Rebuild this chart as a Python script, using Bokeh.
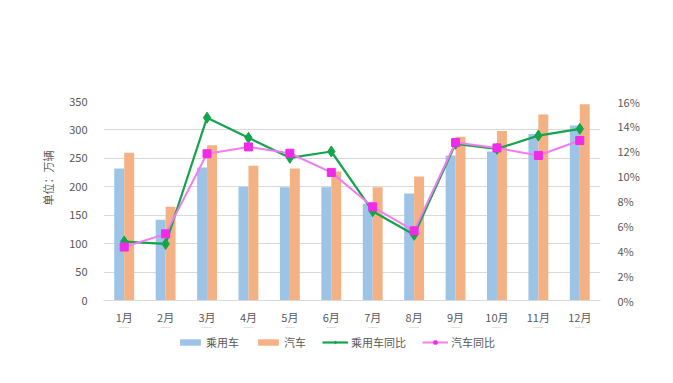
from bokeh.plotting import figure
from bokeh.layouts import column
from bokeh.models import (ColumnDataSource, LinearAxis, Range1d, NumeralTickFormatter,
                          SingleIntervalTicker, Legend, LegendItem, Title, FixedTicker)
from bokeh.transform import dodge
from bokeh.embed import file_html
from bokeh.resources import INLINE

months = ["1月", "2月", "3月", "4月", "5月", "6月", "7月", "8月", "9月", "10月", "11月", "12月"]
passenger = [232, 142, 234, 200, 199, 199, 170, 188, 255, 262, 293, 308]
vehicles = [260, 165, 273, 237, 232, 227, 199, 218, 288, 298, 327, 345]
passenger_yoy = [0.0474, 0.0455, 0.147, 0.1308, 0.1147, 0.1198, 0.0718, 0.0528, 0.126, 0.1219, 0.1326, 0.138]
vehicles_yoy = [0.043, 0.0536, 0.118, 0.1235, 0.1184, 0.103, 0.0753, 0.056, 0.127, 0.1227, 0.1166, 0.1286]
series_names = ["乘用车", "汽车", "乘用车同比", "汽车同比"]

FONT = "Noto Sans CJK SC"
x = list(range(1, len(months) + 1))
src = ColumnDataSource(dict(x=x, p=passenger, v=vehicles, py=passenger_yoy, vy=vehicles_yoy))

blue, orange = "#9dc3e6", "#f4b183"
green = "#14a44d"
pink_line = "#f27cf0"
pink_mark = "#ee2ce8"

p = figure(frame_width=497, frame_height=199, output_backend="svg", toolbar_location=None,
           x_range=Range1d(0.5, 12.5), y_range=Range1d(0, 350),
           min_border_left=103, min_border_right=60, min_border_top=101, min_border_bottom=22)
p.extra_y_ranges = {"pct": Range1d(0, 0.16)}
p.outline_line_color = None
p.background_fill_color = "white"
p.border_fill_color = "white"

bw = 0.24
p.vbar(x=dodge("x", -bw / 2), top="p", width=bw, source=src, fill_color=blue, line_color=None)
p.vbar(x=dodge("x", bw / 2), top="v", width=bw, source=src, fill_color=orange, line_color=None)
p.line(x="x", y="py", source=src, y_range_name="pct", line_color=green, line_width=2.2)
p.scatter(x="x", y="py", source=src, y_range_name="pct", marker="diamond", size=11,
          fill_color=green, line_color=green)
p.line(x="x", y="vy", source=src, y_range_name="pct", line_color=pink_line, line_width=2)
p.scatter(x="x", y="vy", source=src, y_range_name="pct", marker="square", size=8,
          fill_color=pink_mark, line_color=pink_mark)

# axes
p.yaxis.ticker = SingleIntervalTicker(interval=50)
p.yaxis.axis_line_color = None
p.yaxis.major_tick_line_color = None
p.yaxis.minor_tick_line_color = None
p.yaxis.major_label_text_font = FONT
p.yaxis.major_label_text_font_size = "11px"
p.yaxis.major_label_text_color = "#595959"
p.yaxis.major_label_standoff = 10

ra = LinearAxis(y_range_name="pct", ticker=FixedTicker(ticks=[i / 100 for i in range(0, 17, 2)]),
                formatter=NumeralTickFormatter(format="0%"))
ra.axis_line_color = None
ra.major_tick_line_color = None
ra.minor_tick_line_color = None
ra.major_label_text_font = FONT
ra.major_label_text_font_size = "11px"
ra.major_label_text_color = "#595959"
ra.major_label_standoff = 11
p.add_layout(ra, "right")

p.xaxis.ticker = FixedTicker(ticks=x)
p.xaxis.major_label_overrides = {i + 1: m for i, m in enumerate(months)}
p.xaxis.axis_line_color = "#d9d9d9"
p.xaxis.major_tick_line_color = None
p.xaxis.minor_tick_line_color = None
p.xaxis.major_label_text_font = FONT
p.xaxis.major_label_text_font_size = "11px"
p.xaxis.major_label_text_color = "#595959"
p.xaxis.major_label_standoff = 2

p.xgrid.grid_line_color = None
p.ygrid.grid_line_color = "#d9d9d9"

ytitle = Title(text="单位：万辆", align="left", offset=95, standoff=21,
               text_font=FONT, text_font_size="11px", text_font_style="normal",
               text_color="#595959")
p.add_layout(ytitle, "left")

# legend strip below the chart (same data, drawn outside its visible range; only the legend shows)
lg = figure(width=660, height=40, output_backend="svg", toolbar_location=None,
            x_axis_type=None, y_axis_type=None, min_border=0,
            x_range=Range1d(0.5, 12.5), y_range=Range1d(-1000, -999))
lg.extra_y_ranges = {"pct": Range1d(-1000, -999)}
lg.outline_line_color = None
lg.xgrid.grid_line_color = None
lg.ygrid.grid_line_color = None
r1 = lg.vbar(x="x", top="p", bottom=500, width=bw, source=src, fill_color=blue, line_color=None)
r2 = lg.vbar(x="x", top="v", bottom=500, width=bw, source=src, fill_color=orange, line_color=None)
r3 = lg.line(x="x", y="py", source=src, y_range_name="pct", line_color=green, line_width=2.2)
r3m = lg.scatter(x="x", y="py", source=src, y_range_name="pct", marker="diamond", size=9,
                 fill_color=green, line_color=green)
r4 = lg.line(x="x", y="vy", source=src, y_range_name="pct", line_color=pink_line, line_width=2)
r4m = lg.scatter(x="x", y="vy", source=src, y_range_name="pct", marker="square", size=8,
                 fill_color=pink_mark, line_color=pink_mark)

legend = Legend(items=[
    LegendItem(label=series_names[0], renderers=[r1]),
    LegendItem(label=series_names[1], renderers=[r2]),
    LegendItem(label=series_names[2], renderers=[r3, r3m]),
    LegendItem(label=series_names[3], renderers=[r4, r4m]),
], orientation="horizontal", location=(74, 17), nrows=1)
legend.border_line_color = None
legend.background_fill_alpha = 0
legend.label_text_font = FONT
legend.label_text_font_size = "11px"
legend.label_text_color = "#595959"
legend.label_height = 14
legend.glyph_width = 26
legend.glyph_height = 8
legend.spacing = 16
legend.label_standoff = 3
legend.padding = 0
legend.margin = 0
lg.add_layout(legend)

layout = column(p, lg, spacing=0)
open("out.html", "w").write(file_html(layout, INLINE))
